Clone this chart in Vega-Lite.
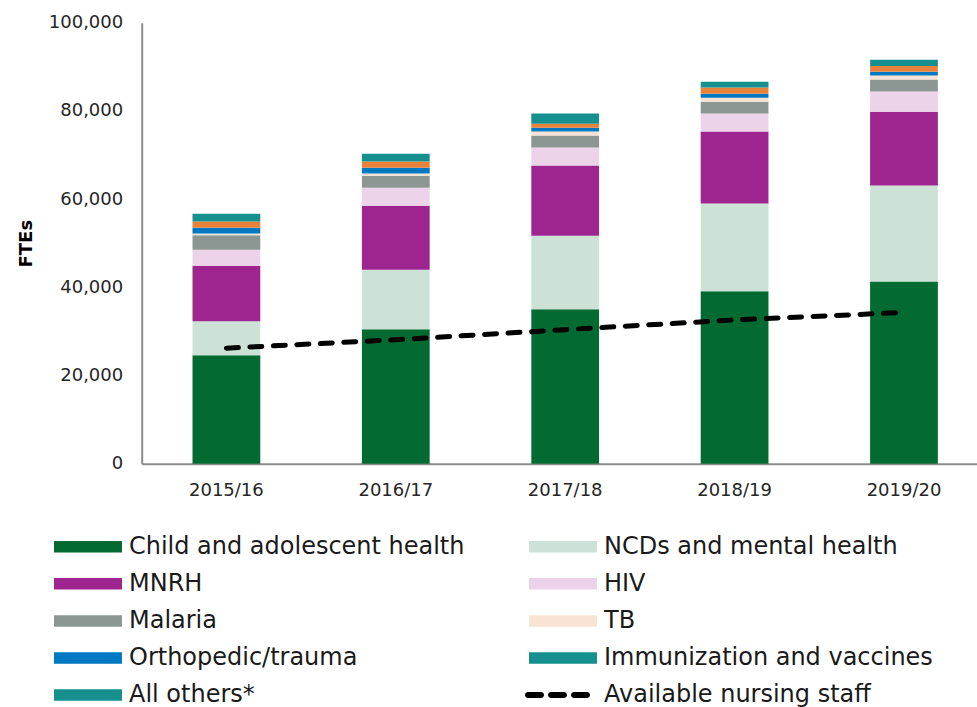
{
  "$schema": "https://vega.github.io/schema/vega-lite/v6.json",
  "width": 847,
  "height": 441,
  "autosize": {"type": "none"},
  "padding": {"left": 141.7, "top": 22.7, "right": 0, "bottom": 243},
  "background": "white",
  "config": {
    "view": {"stroke": null},
    "font": "DejaVu Sans"
  },
  "datasets": {
    "bars": [
      {"year": "2015/16", "cause": "Child and adolescent health", "fte": 24600},
      {"year": "2015/16", "cause": "NCDs and mental health", "fte": 7700},
      {"year": "2015/16", "cause": "MNRH", "fte": 12600},
      {"year": "2015/16", "cause": "HIV", "fte": 3600},
      {"year": "2015/16", "cause": "Malaria", "fte": 3300},
      {"year": "2015/16", "cause": "TB", "fte": 400},
      {"year": "2015/16", "cause": "Orthopedic/trauma", "fte": 1300},
      {"year": "2015/16", "cause": "Immunization and vaccines", "fte": 1400},
      {"year": "2015/16", "cause": "All others*", "fte": 1800},
      {"year": "2016/17", "cause": "Child and adolescent health", "fte": 30500},
      {"year": "2016/17", "cause": "NCDs and mental health", "fte": 13500},
      {"year": "2016/17", "cause": "MNRH", "fte": 14500},
      {"year": "2016/17", "cause": "HIV", "fte": 4100},
      {"year": "2016/17", "cause": "Malaria", "fte": 2700},
      {"year": "2016/17", "cause": "TB", "fte": 500},
      {"year": "2016/17", "cause": "Orthopedic/trauma", "fte": 1300},
      {"year": "2016/17", "cause": "Immunization and vaccines", "fte": 1400},
      {"year": "2016/17", "cause": "All others*", "fte": 1800},
      {"year": "2017/18", "cause": "Child and adolescent health", "fte": 35000},
      {"year": "2017/18", "cause": "NCDs and mental health", "fte": 16700},
      {"year": "2017/18", "cause": "MNRH", "fte": 15900},
      {"year": "2017/18", "cause": "HIV", "fte": 4100},
      {"year": "2017/18", "cause": "Malaria", "fte": 2700},
      {"year": "2017/18", "cause": "TB", "fte": 900},
      {"year": "2017/18", "cause": "Orthopedic/trauma", "fte": 900},
      {"year": "2017/18", "cause": "Immunization and vaccines", "fte": 900},
      {"year": "2017/18", "cause": "All others*", "fte": 2300},
      {"year": "2018/19", "cause": "Child and adolescent health", "fte": 39100},
      {"year": "2018/19", "cause": "NCDs and mental health", "fte": 19900},
      {"year": "2018/19", "cause": "MNRH", "fte": 16300},
      {"year": "2018/19", "cause": "HIV", "fte": 4100},
      {"year": "2018/19", "cause": "Malaria", "fte": 2700},
      {"year": "2018/19", "cause": "TB", "fte": 900},
      {"year": "2018/19", "cause": "Orthopedic/trauma", "fte": 900},
      {"year": "2018/19", "cause": "Immunization and vaccines", "fte": 1400},
      {"year": "2018/19", "cause": "All others*", "fte": 1300},
      {"year": "2019/20", "cause": "Child and adolescent health", "fte": 41300},
      {"year": "2019/20", "cause": "NCDs and mental health", "fte": 21800},
      {"year": "2019/20", "cause": "MNRH", "fte": 16700},
      {"year": "2019/20", "cause": "HIV", "fte": 4600},
      {"year": "2019/20", "cause": "Malaria", "fte": 2700},
      {"year": "2019/20", "cause": "TB", "fte": 900},
      {"year": "2019/20", "cause": "Orthopedic/trauma", "fte": 900},
      {"year": "2019/20", "cause": "Immunization and vaccines", "fte": 1300},
      {"year": "2019/20", "cause": "All others*", "fte": 1400}
    ],
    "staff": [
      {"year": "2015/16", "series": "Available nursing staff", "fte": 26200},
      {"year": "2016/17", "series": "Available nursing staff", "fte": 28100},
      {"year": "2017/18", "series": "Available nursing staff", "fte": 30400},
      {"year": "2018/19", "series": "Available nursing staff", "fte": 32600},
      {"year": "2019/20", "series": "Available nursing staff", "fte": 34300}
    ]
  },
  "encoding": {
    "x": {
      "field": "year",
      "type": "nominal",
      "sort": null,
      "scale": {"paddingInner": 0.6, "paddingOuter": 0.3},
      "axis": {
        "title": null,
        "labelAngle": 0,
        "labelFont": "DejaVu Sans",
        "labelFontSize": 18,
        "labelColor": "#262626",
        "labelPadding": 18,
        "ticks": false,
        "tickSize": 0,
        "domainColor": "#8c8c8c",
        "domainWidth": 2
      }
    }
  },
  "layer": [
    {
      "data": {"name": "bars"},
      "transform": [
        {"calculate": "indexof(['Child and adolescent health','NCDs and mental health','MNRH','HIV','Malaria','TB','Orthopedic/trauma','Immunization and vaccines','All others*'], datum.cause)", "as": "ord"}
      ],
      "mark": {"type": "bar"},
      "encoding": {
        "y": {
          "field": "fte",
          "type": "quantitative",
          "stack": "zero",
          "scale": {"domain": [0, 100000], "nice": false},
          "axis": {
            "title": "FTEs",
            "titleFont": "DejaVu Sans",
            "titleFontWeight": "bold",
            "titleFontSize": 18,
            "titleColor": "#000000",
            "titleAngle": -90,
            "titleAlign": "center",
            "titleBaseline": "middle",
            "titleX": -115,
            "titleY": 220.5,
            "values": [0, 20000, 40000, 60000, 80000, 100000],
            "format": ",.0f",
            "grid": false,
            "ticks": false,
            "tickSize": 0,
            "labelPadding": 19,
            "labelFont": "DejaVu Sans",
            "labelFontSize": 18,
            "labelColor": "#262626",
            "domainColor": "#8c8c8c",
            "domainWidth": 2
          }
        },
        "color": {
          "condition": {"test": "datum.cause === 'Immunization and vaccines'", "value": "#e8823b"},
          "field": "cause",
          "type": "nominal",
          "scale": {
            "domain": ["Child and adolescent health", "NCDs and mental health", "MNRH", "HIV", "Malaria", "TB", "Orthopedic/trauma", "Immunization and vaccines", "All others*", "Available nursing staff"],
            "range": ["#036b31", "#cce2d6", "#9e2490", "#ecd3e9", "#8c9693", "#f9e3d5", "#0079c2", "#168f8f", "#168f8f", "#000000"]
          },
          "legend": {
            "title": null,
            "orient": "none",
            "direction": "horizontal",
            "legendX": -93.7,
            "legendY": 512,
            "columns": 2,
            "columnPadding": 58,
            "rowPadding": 13.1,
            "padding": 0,
            "symbolSize": 144,
            "symbolType": "M-1,-0.96H10.33V0.96H-1Z",
            "labelFont": "DejaVu Sans",
            "labelFontSize": 24,
            "labelColor": "#1a1a1a",
            "labelOffset": 57,
            "labelLimit": 500,
            "encode": {
              "symbols": {
                "update": {
                  "fill": {"signal": "scale('color', datum.value)"},
                  "stroke": {"value": "transparent"},
                  "strokeWidth": {"value": 0},
                  "opacity": {"value": 1},
                  "shape": {"signal": "datum.value === 'Available nursing staff' ? 'M-1.17,-0.5H1A0.5,0.5 0 0 1 1,0.5H-1.17A0.5,0.5 0 0 1 -1.17,-0.5Z M2.67,-0.5H4.83A0.5,0.5 0 0 1 4.83,0.5H2.67A0.5,0.5 0 0 1 2.67,-0.5Z M6.5,-0.5H8.67A0.5,0.5 0 0 1 8.67,0.5H6.5A0.5,0.5 0 0 1 6.5,-0.5Z' : 'M-1,-0.96H10.33V0.96H-1Z'"}
                }
              }
            }
          }
        },
        "order": {"field": "ord", "type": "quantitative", "sort": "ascending"}
      }
    },
    {
      "data": {"name": "staff"},
      "mark": {"type": "line", "strokeWidth": 5, "strokeDash": [12, 11.5], "strokeCap": "round"},
      "encoding": {
        "y": {"field": "fte", "type": "quantitative"},
        "color": {"field": "series", "type": "nominal"}
      }
    }
  ]
}
